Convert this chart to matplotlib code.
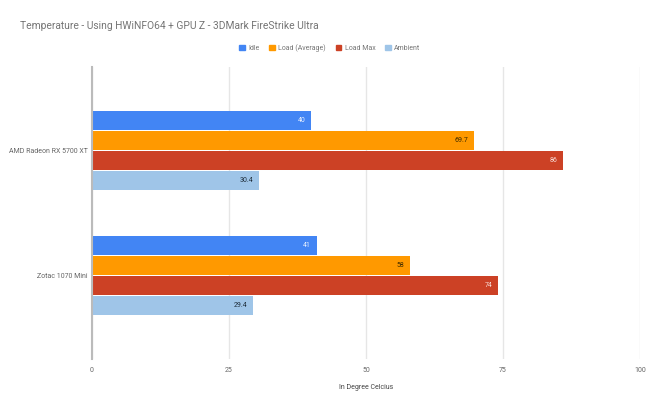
import numpy as np
import matplotlib.pyplot as plt
from matplotlib.patches import Patch

plt.rcParams['font.family'] = ['Roboto', 'DejaVu Sans']

gpus = ['AMD Radeon RX 5700 XT', 'Zotac 1070 Mini']
series = ['Idle', 'Load (Average)', 'Load Max', 'Ambient']
idle = [40, 41]
load_avg = [69.7, 58]
load_max = [86, 74]
ambient = [30.4, 29.4]

colors = ['#4285f4', '#ff9900', '#cc4125', '#9fc5e8']
label_colors = ['#e8f0fe', '#3b2a00', '#f6dcd6', '#1f2d3a']
values = [idle, load_avg, load_max, ambient]

fig = plt.figure(figsize=(6.6, 4.08), dpi=100)
ax = fig.add_axes([92/660, 1-359/408, 548/660, 292/408])

bar_h = 0.16
y = np.arange(len(gpus))
for i, (vals, c, lc) in enumerate(zip(values, colors, label_colors)):
    pos = y - 0.24 + i*bar_h
    bars = ax.barh(pos, vals, height=bar_h*0.96, color=c, zorder=2)
    for b, v in zip(bars, vals):
        ax.text(v - 1, b.get_y() + b.get_height()/2, f'{v:g}', ha='right', va='center',
                fontsize=5, color=lc, zorder=3)

ax.set_xlim(0, 100)
ax.set_ylim(1.672, -0.672)
ax.set_xticks([0, 25, 50, 75, 100])
ax.set_yticks(y)
ax.set_yticklabels(gpus)
ax.tick_params(axis='both', length=0, labelsize=5, colors='#666666')
ax.tick_params(axis='x', pad=6)
ax.tick_params(axis='y', pad=3)
ax.xaxis.grid(True, color='#e6e6e6', linewidth=1, zorder=0)
for s in ['top', 'right', 'bottom']:
    ax.spines[s].set_visible(False)
ax.spines['left'].set_color('#bbbbbb')
ax.spines['left'].set_linewidth(1.5)
ax.spines['left'].set_zorder(4)
ax.set_xlabel('In Degree Celcius', fontsize=5, color='#444444', labelpad=7)

fig.text(20/660, 1-26/408, 'Temperature - Using HWiNFO64 + GPU Z - 3DMark FireStrike Ultra',
         fontsize=7.4, color='#757575', va='center', ha='left')

handles = [Patch(facecolor=c, edgecolor=c) for c in colors]
fig.legend(handles, series, loc='center', bbox_to_anchor=(330/660, 1-48/408), ncol=4,
           frameon=False, fontsize=5, labelcolor='#777777', handlelength=0.8,
           handleheight=0.8, handletextpad=0.5, columnspacing=1.4)

fig.savefig('out.png', dpi=100)
